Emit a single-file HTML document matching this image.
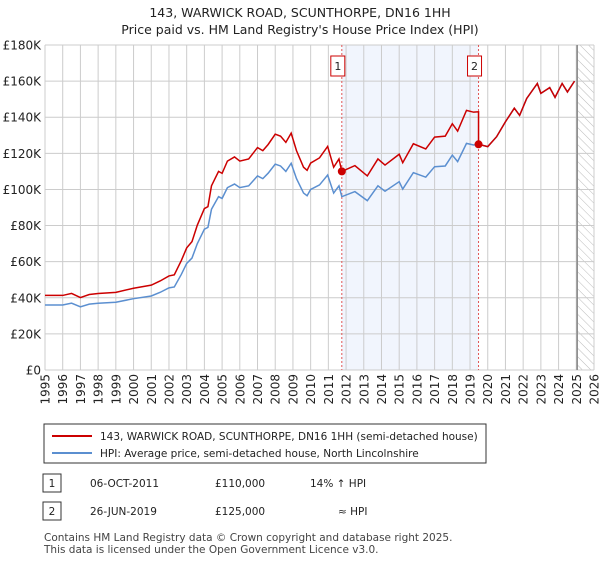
<!DOCTYPE html>
<html><head><meta charset="utf-8"><style>
body{margin:0;background:#fff;font-family:"Liberation Sans","DejaVu Sans",sans-serif;}
svg text{font-family:"DejaVu Sans","Liberation Sans",sans-serif;}
</style></head><body>
<svg id="c" width="600" height="560" viewBox="0 0 600 560" xmlns="http://www.w3.org/2000/svg">
<text x="300" y="17" text-anchor="middle" font-size="12.5" fill="#222">143, WARWICK ROAD, SCUNTHORPE, DN16 1HH</text>
<text x="300" y="34" text-anchor="middle" font-size="12.5" fill="#222">Price paid vs. HM Land Registry's House Price Index (HPI)</text>
<g id="plot"></g>
<rect x="44" y="424" width="442" height="39" fill="#fff" stroke="#333"/>
<line x1="52" y1="436" x2="92" y2="436" stroke="#cc0000" stroke-width="2"/>
<text x="100" y="440" font-size="10.5" fill="#222">143, WARWICK ROAD, SCUNTHORPE, DN16 1HH (semi-detached house)</text>
<line x1="52" y1="453" x2="92" y2="453" stroke="#5b8fd0" stroke-width="2"/>
<text x="100" y="457" font-size="10.5" fill="#222">HPI: Average price, semi-detached house, North Lincolnshire</text>
<rect x="43" y="474" width="18" height="18" fill="#fff" stroke="#333"/>
<text x="52" y="487" text-anchor="middle" font-size="10.5" fill="#222">1</text>
<text x="90" y="487" font-size="10.5" fill="#222">06-OCT-2011</text>
<text x="215" y="487" font-size="10.5" fill="#222">£110,000</text>
<text x="310" y="487" font-size="10.5" fill="#222">14% ↑ HPI</text>
<rect x="43" y="502" width="18" height="18" fill="#fff" stroke="#333"/>
<text x="52" y="515" text-anchor="middle" font-size="10.5" fill="#222">2</text>
<text x="90" y="515" font-size="10.5" fill="#222">26-JUN-2019</text>
<text x="215" y="515" font-size="10.5" fill="#222">£125,000</text>
<text x="338" y="515" font-size="10.5" fill="#222">≈ HPI</text>
<text x="44" y="541" font-size="10.5" fill="#444">Contains HM Land Registry data © Crown copyright and database right 2025.</text>
<text x="44" y="553" font-size="10.5" fill="#444">This data is licensed under the Open Government Licence v3.0.</text>
</svg>
<script>
const yTicks=[0,20,40,60,80,100,120,140,160,180];
const yLabels=["£0","£20K","£40K","£60K","£80K","£100K","£120K","£140K","£160K","£180K"];
const xYears=[1995,1996,1997,1998,1999,2000,2001,2002,2003,2004,2005,2006,2007,2008,2009,2010,2011,2012,2013,2014,2015,2016,2017,2018,2019,2020,2021,2022,2023,2024,2025,2026];
const hpiT=[1995,1996,1996.5,1997,1997.5,1998,1999,2000,2001,2001.5,2002,2002.3,2002.7,2003,2003.3,2003.6,2004,2004.2,2004.4,2004.8,2005,2005.3,2005.7,2006,2006.5,2007,2007.3,2007.6,2008,2008.3,2008.6,2008.9,2009.2,2009.6,2009.8,2010,2010.5,2010.96,2011.3,2011.6,2011.76,2012.5,2013.2,2013.8,2014.2,2015,2015.2,2015.8,2016.5,2017,2017.6,2018,2018.3,2018.8,2019.2,2019.48,2020,2020.5,2021,2021.5,2021.8,2022.2,2022.8,2023,2023.5,2023.8,2024.2,2024.5,2024.9];
const hpiV=[36,36,37,35,36.5,37,37.5,39.5,41,43,45.5,46,53,59,62,70,78,79,89,96,95,101,103,101,102,107.5,106,109,114,113,110,114.5,106,98,96.5,100,102.5,108,98,102,96,98.8,93.8,102,99,104.3,100.2,109.3,106.8,112.6,113,119,115.4,125.5,124.6,125,123.7,129.2,137.5,145,141,150.4,158.7,153.2,156.4,151,158.7,154,160];
const priceT=[1995,1996,1996.5,1997,1997.5,1998,1999,2000,2001,2001.5,2002,2002.3,2002.7,2003,2003.3,2003.6,2004,2004.2,2004.4,2004.8,2005,2005.3,2005.7,2006,2006.5,2007,2007.3,2007.6,2008,2008.3,2008.6,2008.9,2009.2,2009.6,2009.8,2010,2010.5,2010.96,2011.3,2011.6,2011.76,2012.5,2013.2,2013.8,2014.2,2015,2015.2,2015.8,2016.5,2017,2017.6,2018,2018.3,2018.8,2019.2,2019.48,2019.48,2020,2020.5,2021,2021.5,2021.8,2022.2,2022.8,2023,2023.5,2023.8,2024.2,2024.5,2024.9];
const priceV=[41.3,41.3,42.4,40.1,41.8,42.4,43,45.3,47,49.3,52.1,52.7,60.7,67.6,71.1,80.2,89.4,90.5,102,110,108.9,115.7,118,115.7,116.9,123.2,121.5,124.9,130.6,129.5,126.1,131.2,121.5,112.3,110.6,114.6,117.5,123.8,112.3,116.9,110,113.2,107.5,116.9,113.5,119.5,114.8,125.3,122.4,129,129.5,136.4,132.3,143.8,142.8,143,125,123.7,129.2,137.5,145,141,150.4,158.7,153.2,156.4,151,158.7,154,160];
const saleT=[2011.76,2019.48];
const saleV=[110,125];
const saleLabels=["1","2"];
const X0=45,X1=594,Y0=370,Y1=45;
const xs=t=>X0+(t-1995)/(2026-1995)*(X1-X0);
const ys=v=>Y0-v/180*(Y0-Y1);
const NS="http://www.w3.org/2000/svg";
const g=document.getElementById('plot');
function mk(tag,at,parent){const e=document.createElementNS(NS,tag);for(const k in at)e.setAttribute(k,at[k]);(parent||g).appendChild(e);return e;}
let e=mk('rect',{x:xs(saleT[0]),y:Y1,width:xs(saleT[1])-xs(saleT[0]),height:Y0-Y1,fill:'#eef3fc',opacity:0.8});


const defs=mk('defs',{});
const pat=mk('pattern',{id:'hatch',width:6,height:6,patternUnits:'userSpaceOnUse',patternTransform:'rotate(-45)'},defs);
mk('line',{x1:0,y1:0,x2:0,y2:6,stroke:'#bbb','stroke-width':1},pat);
e=mk('rect',{x:xs(2025.05),y:Y1,width:X1-xs(2025.05),height:Y0-Y1,fill:'url(#hatch)'});


yTicks.forEach((v,i)=>{
 let l=mk('line',{x1:X0,x2:X1,y1:ys(v),y2:ys(v),stroke:'#ccc','stroke-width':1});
 
 
 let t=mk('text',{x:X0-4,y:ys(v)+4.5,'text-anchor':'end','font-size':12,fill:'#222'});
 t.textContent=yLabels[i];
 
 
});
xYears.forEach(yr=>{
 let l=mk('line',{x1:xs(yr),x2:xs(yr),y1:Y1,y2:Y0,stroke:'#ccc','stroke-width':1});
 
 
 let t=mk('text',{x:0,y:0,'text-anchor':'end','font-size':12,fill:'#222',transform:`translate(${xs(yr)+4.5},${Y0+4}) rotate(-90)`});
 t.textContent=yr;
 
 
});
e=mk('line',{x1:xs(2025.05),x2:xs(2025.05),y1:Y1,y2:Y0,stroke:'#888','stroke-width':1.5});


saleT.forEach((t,i)=>{
 let l=mk('line',{x1:xs(t),x2:xs(t),y1:Y1,y2:Y0,stroke:'#e05555','stroke-width':1,'stroke-dasharray':'2,2'});
 
 
 let r=mk('rect',{x:xs(t)-11,y:56,width:14,height:20,fill:'#fff',stroke:'#cc0000'});
 
 
 let tx=mk('text',{x:xs(t)-4,y:70,'text-anchor':'middle','font-size':11,fill:'#222'});
 tx.textContent=saleLabels[i];
 
 
});
e=mk('polyline',{points:hpiT.map((t,i)=>xs(t)+','+ys(hpiV[i])).join(' '),fill:'none',stroke:'#5b8fd0','stroke-width':1.5});


e=mk('polyline',{points:priceT.map((t,i)=>xs(t)+','+ys(priceV[i])).join(' '),fill:'none',stroke:'#cc0000','stroke-width':1.5});


saleT.forEach((t,i)=>{
 let c=mk('circle',{cx:xs(t),cy:ys(saleV[i]),r:4,fill:'#cc0000'});
 
 
});
</script>
</body></html>
